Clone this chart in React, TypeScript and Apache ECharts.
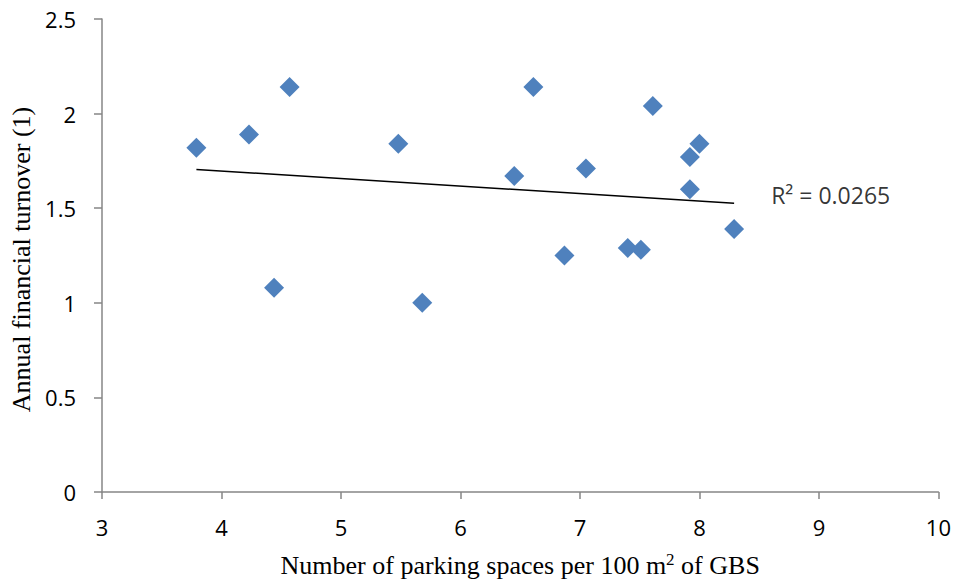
import React, { useEffect, useRef } from "react";
import * as echarts from "echarts";

const parkingSpaces = [3.79, 4.23, 4.57, 4.44, 5.48, 5.68, 6.45, 6.61, 6.87, 7.05, 7.4, 7.51, 7.61, 7.92, 8.0, 7.92, 8.29];
const turnover = [1.82, 1.89, 2.14, 1.08, 1.84, 1.0, 1.67, 2.14, 1.25, 1.71, 1.29, 1.28, 2.04, 1.77, 1.84, 1.6, 1.39];
const trendX = [3.79, 8.29];
const trendY = [1.705, 1.526];
const rSquaredLabel = "R² = 0.0265";
const rLabelPos = [8.6, 1.569];
const xTicks = [3, 4, 5, 6, 7, 8, 9, 10];
const yTicks = [0, 0.5, 1, 1.5, 2, 2.5];

export default function App() {
  const ref = useRef<HTMLDivElement>(null);
  useEffect(() => {
    if (!ref.current) return;
    const chart = echarts.init(ref.current, undefined, { renderer: "svg" });
    const axisGray = "#868686";
    const tickFont = { fontFamily: "Open Sans", fontSize: 22, color: "#000" };
    chart.setOption({
      animation: false,
      backgroundColor: "#fff",
      grid: { left: 102, right: 15, top: 19, bottom: 89, containLabel: false },
      xAxis: {
        type: "value",
        min: xTicks[0],
        max: xTicks[xTicks.length - 1],
        interval: 1,
        splitLine: { show: false },
        axisLine: { show: true, onZero: false, lineStyle: { color: axisGray, width: 1.5 } },
        axisTick: { show: true, length: 7, lineStyle: { color: axisGray, width: 1.5 } },
        axisLabel: { ...tickFont, margin: 24 },
        name: "{n|Number of parking spaces per 100 m}{s|2}{n| of GBS}",
        nameLocation: "middle",
        nameGap: 59,
        nameTextStyle: {
          rich: {
            n: { fontFamily: "Liberation Serif", fontSize: 26, color: "#000", verticalAlign: "bottom" },
            s: { fontFamily: "Liberation Serif", fontSize: 17, color: "#000", verticalAlign: "top", padding: [0, 0, 10, 0] },
          },
        },
      },
      yAxis: {
        type: "value",
        min: yTicks[0],
        max: yTicks[yTicks.length - 1],
        interval: 0.5,
        splitLine: { show: false },
        axisLine: { show: true, lineStyle: { color: axisGray, width: 1.5 } },
        axisTick: { show: true, length: 8, lineStyle: { color: axisGray, width: 1.5 } },
        axisLabel: { ...tickFont, margin: 26 },
        name: "Annual financial turnover (1)",
        nameLocation: "middle",
        nameGap: 63,
        nameTextStyle: { fontFamily: "Liberation Serif", fontSize: 26, color: "#000", padding: [0, 8, 0, 0] },
      },
      series: [
        {
          type: "scatter",
          symbol: "diamond",
          symbolSize: 20,
          itemStyle: { color: "#4F81BD", opacity: 1 },
          data: parkingSpaces.map((x, i) => [x, turnover[i]]),
          z: 3,
        },
        {
          type: "line",
          data: trendX.map((x, i) => [x, trendY[i]]),
          symbol: "none",
          lineStyle: { color: "#000", width: 1.5 },
          z: 2,
        },
        {
          type: "scatter",
          symbolSize: 0,
          data: [rLabelPos],
          label: {
            show: true,
            position: "right",
            distance: 0,
            formatter: rSquaredLabel,
            fontFamily: "Open Sans",
            fontSize: 23,
            color: "#000",
          },
        },
      ],
    });
    return () => chart.dispose();
  }, []);
  return <div ref={ref} style={{ width: 954, height: 583, position: "absolute", left: 0, top: 0 }} />;
}
